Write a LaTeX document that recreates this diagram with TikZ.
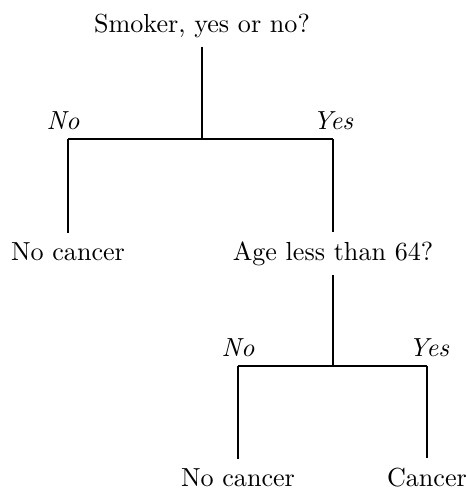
\documentclass[tikz,border=0pt]{standalone}
\usetikzlibrary{positioning}
\begin{document}
\begin{tikzpicture}[x=0.383pt,y=-0.383pt,
    branch/.style={line width=0.4pt},
    question/.style={anchor=base},
    leaf/.style={anchor=base},
    answer/.style={font=\itshape,anchor=base}
]
\useasboundingbox (0,0) rectangle (466,490);

% first split
\node[question] (smoker) at (202,32) {Smoker, yes or no?};
\coordinate (smokersplit) at (202,139);
\coordinate (smokerno) at (68,139);
\coordinate (smokeryes) at (333,139);
\node[answer] (smokernolabel) at (63,129) {No};
\node[answer] (smokeryeslabel) at (333,129) {Yes};
\node[leaf] (nocancertop) at (68,260) {No cancer};
\node[question] (age) at (333,260) {Age less than 64?};

% second split
\coordinate (agesplit) at (333,366);
\coordinate (ageno) at (238,366);
\coordinate (ageyes) at (427,366);
\node[answer] (agenolabel) at (238,356) {No};
\node[answer] (ageyeslabel) at (429,356) {Yes};
\node[leaf] (nocancerbottom) at (238,486) {No cancer};
\node[leaf] (cancer) at (427,486) {Cancer};

\draw[branch] (smoker.south) -- (smokersplit);
\draw[branch] (smokerno) -- (smokeryes);
\draw[branch] (smokerno) -- (nocancertop.north);
\draw[branch] (smokeryes) -- (age.north);

\draw[branch] (age.south) -- (agesplit);
\draw[branch] (ageno) -- (ageyes);
\draw[branch] (ageno) -- (nocancerbottom.north);
\draw[branch] (ageyes) -- (cancer.north);

\end{tikzpicture}
\end{document}
